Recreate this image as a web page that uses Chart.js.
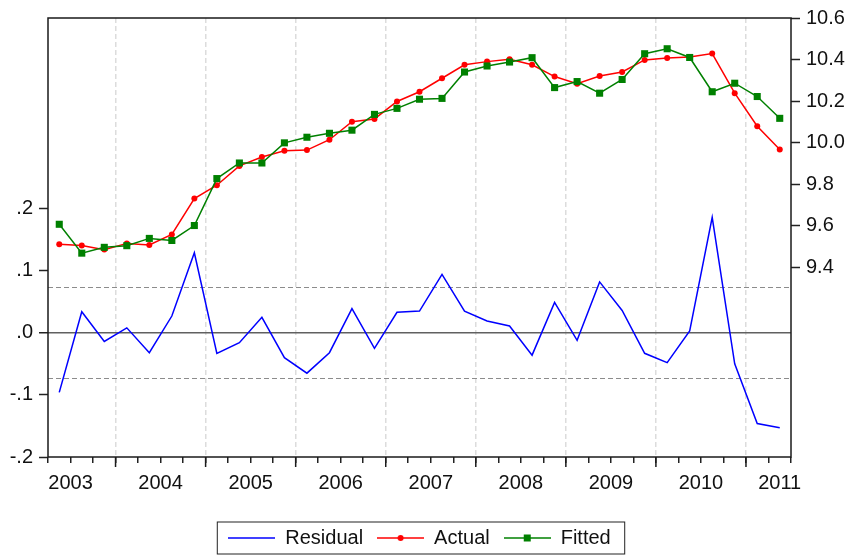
<!DOCTYPE html>
<html>
<head>
<meta charset="utf-8">
<script src="https://cdn.jsdelivr.net/npm/chart.js@4.4.1/dist/chart.umd.min.js"></script>
<style>
  html, body { margin: 0; padding: 0; background: #fff; }
</style>
</head>
<body>
<canvas id="chart" width="850" height="556"></canvas>
<script>
// quarterly sample, 2003Q2 - 2011Q2
const quarters = [
    '2003Q2', '2003Q3', '2003Q4',
    '2004Q1', '2004Q2', '2004Q3', '2004Q4',
    '2005Q1', '2005Q2', '2005Q3', '2005Q4',
    '2006Q1', '2006Q2', '2006Q3', '2006Q4',
    '2007Q1', '2007Q2', '2007Q3', '2007Q4',
    '2008Q1', '2008Q2', '2008Q3', '2008Q4',
    '2009Q1', '2009Q2', '2009Q3', '2009Q4',
    '2010Q1', '2010Q2', '2010Q3', '2010Q4',
    '2011Q1', '2011Q2'
];
const residual = [-0.096, 0.034, -0.014, 0.008, -0.032, 0.027, 0.129, -0.033, -0.016, 0.025, -0.040,
    -0.065, -0.032, 0.039, -0.025, 0.033, 0.035, 0.094, 0.035, 0.019, 0.011, -0.036, 0.049,
    -0.012, 0.082, 0.036, -0.033, -0.048, 0.003, 0.186, -0.050, -0.146, -0.153];
const actual = [9.511, 9.505, 9.485, 9.515, 9.507, 9.558, 9.731, 9.795, 9.888, 9.931, 9.961,
    9.964, 10.014, 10.101, 10.114, 10.198, 10.245, 10.310, 10.375, 10.390, 10.401, 10.375, 10.318,
    10.284, 10.321, 10.340, 10.398, 10.407, 10.412, 10.429, 10.238, 10.079, 9.967];
const fitted = [9.607, 9.468, 9.496, 9.504, 9.539, 9.529, 9.601, 9.827, 9.902, 9.902, 9.999,
    10.026, 10.045, 10.060, 10.136, 10.165, 10.209, 10.213, 10.340, 10.369, 10.388, 10.409, 10.265,
    10.294, 10.238, 10.304, 10.428, 10.452, 10.410, 10.245, 10.286, 10.222, 10.117];
const leftTicks = [-0.2, -0.1, 0, 0.1, 0.2];
const rightTicks = [9.4, 9.6, 9.8, 10.0, 10.2, 10.4, 10.6];
const seBand = 0.073; // +/- 1 S.E. of regression

const years = [...new Set(quarters.map(q => q.slice(0, 4)))];
// year label sits in the middle of the calendar year (kept inside the plot)
const yearPos = years.map(y => {
    const first = quarters.findIndex(q => q.startsWith(y));
    const qn = +quarters[first].slice(5);
    return Math.min(first - (qn - 1) + 2, quarters.length - 0.5);
});
const yearBoundaries = quarters.map((q, i) => (i > 0 && q.endsWith('Q1')) ? i : -1).filter(i => i > 0);

const CLEAR = 'rgba(0,0,0,0)';
Chart.defaults.font.family = "'Liberation Sans', Arial, sans-serif";
Chart.defaults.font.size = 20;
Chart.defaults.color = '#111';

function toXY(values) {
    return values.map((v, i) => ({ x: i + 0.5, y: v }));
}

function makeIcon(color, marker) {
    const c = document.createElement('canvas');
    c.width = 47; c.height = 12;
    const g = c.getContext('2d');
    g.strokeStyle = color;
    g.fillStyle = color;
    g.lineWidth = 1.5;
    g.beginPath(); g.moveTo(0, 6); g.lineTo(47, 6); g.stroke();
    if (marker === 'circle') {
        g.beginPath(); g.arc(23.5, 6, 3, 0, Math.PI * 2); g.fill();
    } else if (marker === 'rect') {
        g.fillRect(20, 2.5, 7, 7);
    }
    return c;
}

const framePlugin = {
    id: 'frame',
    afterLayout(chart) {
        // center legend under the plot area
        const lg = chart.legend;
        lg.left -= 5.5; lg.right -= 5.5;
        lg.top += 2; lg.bottom += 2;
    },
    afterDraw(chart) {
        const { ctx, chartArea: a } = chart;
        const x = chart.scales.x;
        ctx.save();
        ctx.strokeStyle = '#1a1a1a';
        ctx.lineWidth = 1.5;
        ctx.strokeRect(a.left, a.top, a.right - a.left, a.bottom - a.top);
        yearBoundaries.forEach(b => {
            const px = x.getPixelForValue(b);
            ctx.beginPath();
            ctx.moveTo(px, a.bottom);
            ctx.lineTo(px, a.bottom + 10);
            ctx.stroke();
        });
        const hb = chart.legend.legendHitBoxes;
        if (hb && hb.length) {
            const first = hb[0], last = hb[hb.length - 1];
            ctx.lineWidth = 1;
            ctx.strokeStyle = '#222';
            const top = first.top - 6;
            ctx.strokeRect(first.left - 11, top, last.left + last.width + 14 - (first.left - 11), first.height + 12);
        }
        ctx.restore();
    }
};

new Chart(document.getElementById('chart'), {
    type: 'line',
    data: {
        datasets: [
            {
                label: 'Residual',
                data: toXY(residual),
                yAxisID: 'y',
                borderColor: '#0000ff',
                borderWidth: 1.5,
                pointRadius: 0,
                order: 2
            },
            {
                label: 'Actual',
                data: toXY(actual),
                yAxisID: 'y1',
                borderColor: '#ff0000',
                backgroundColor: '#ff0000',
                borderWidth: 1.5,
                pointStyle: 'circle',
                pointRadius: 3,
                pointBorderWidth: 0,
                order: 1
            },
            {
                label: 'Fitted',
                data: toXY(fitted),
                yAxisID: 'y1',
                borderColor: '#008000',
                backgroundColor: '#008000',
                borderWidth: 1.5,
                pointStyle: 'rect',
                pointRadius: 5,
                pointBorderWidth: 0,
                order: 0
            }
        ]
    },
    options: {
        responsive: false,
        animation: false,
        layout: { padding: { top: 15, left: 0, right: 0, bottom: 0 } },
        plugins: {
            tooltip: { enabled: false },
            legend: {
                position: 'bottom',
                labels: {
                    usePointStyle: true,
                    pointStyleWidth: 47,
                    padding: 14,
                    font: { size: 20 },
                    generateLabels: chart => chart.data.datasets.map((ds, i) => ({
                        text: ds.label,
                        pointStyle: makeIcon(ds.borderColor, ds.pointRadius > 0 ? ds.pointStyle : null),
                        fillStyle: ds.borderColor,
                        strokeStyle: ds.borderColor,
                        lineWidth: 0,
                        hidden: false,
                        datasetIndex: i,
                        fontColor: '#111'
                    }))
                }
            }
        },
        scales: {
            x: {
                type: 'linear',
                min: 0,
                max: quarters.length,
                bounds: 'data',
                afterBuildTicks: axis => {
                    const vals = new Set();
                    for (let i = 0; i <= quarters.length; i++) vals.add(i);
                    yearPos.forEach(p => vals.add(p));
                    axis.ticks = [...vals].sort((a, b) => a - b).map(v => ({ value: v }));
                },
                afterFit: axis => { axis.height = 55; },
                ticks: {
                    autoSkip: false,
                    maxRotation: 0,
                    minRotation: 0,
                    padding: 8,
                    color: '#111',
                    callback: value => {
                        const k = yearPos.indexOf(value);
                        return k >= 0 ? years[k] : '';
                    }
                },
                grid: {
                    color: ctx => (ctx.tick && yearBoundaries.includes(ctx.tick.value)) ? '#dcdcdc' : CLEAR,
                    lineWidth: 1.5,
                    tickLength: 6,
                    tickWidth: 1.5,
                    tickColor: ctx => (ctx.tick && Number.isInteger(ctx.tick.value)) ? '#222' : CLEAR
                },
                border: { display: false, dash: [5, 3] }
            },
            y: {
                type: 'linear',
                position: 'left',
                min: -0.2,
                max: 0.507,
                bounds: 'data',
                afterBuildTicks: axis => {
                    axis.ticks = [...leftTicks, -seBand, seBand].sort((a, b) => a - b).map(v => ({ value: v }));
                },
                afterFit: axis => { axis.width = 48; },
                ticks: {
                    padding: 6,
                    color: '#111',
                    callback: value => leftTicks.includes(value)
                        ? value.toFixed(1).replace(/^(-?)0/, '$1') : ''
                },
                grid: {
                    color: ctx => {
                        if (!ctx.tick) return CLEAR;
                        if (ctx.tick.value === 0) return '#606060';
                        if (Math.abs(ctx.tick.value) === seBand) return '#8c8c8c';
                        return CLEAR;
                    },
                    lineWidth: ctx => (ctx.tick && ctx.tick.value === 0) ? 1.5 : 1,
                    tickLength: 9,
                    tickWidth: 1.5,
                    tickColor: ctx => (ctx.tick && leftTicks.includes(ctx.tick.value)) ? '#222' : CLEAR
                },
                border: {
                    display: false,
                    dash: ctx => (ctx.tick && ctx.tick.value !== 0) ? [5, 3] : []
                }
            },
            y1: {
                type: 'linear',
                position: 'right',
                min: 8.4867,
                max: 10.6,
                bounds: 'data',
                afterBuildTicks: axis => {
                    axis.ticks = rightTicks.map(v => ({ value: v }));
                },
                afterFit: axis => { axis.width = 59; },
                ticks: {
                    padding: 6,
                    color: '#111',
                    callback: value => value.toFixed(1)
                },
                grid: {
                    drawOnChartArea: false,
                    tickLength: 9,
                    tickWidth: 1.5,
                    tickColor: '#222'
                },
                border: { display: false }
            }
        }
    },
    plugins: [framePlugin]
});
</script>
</body>
</html>
